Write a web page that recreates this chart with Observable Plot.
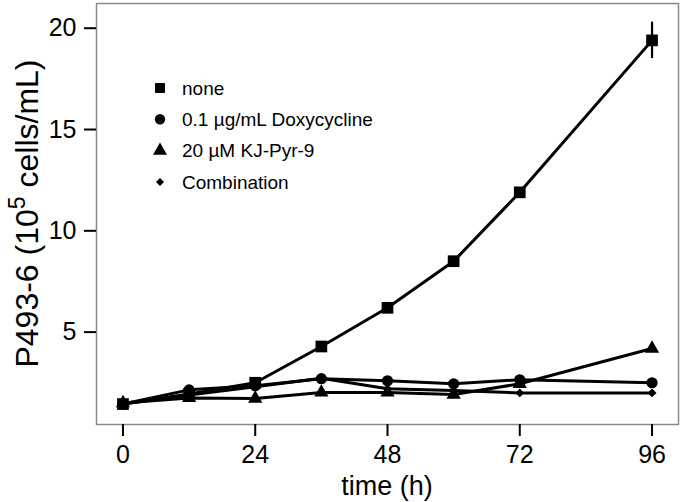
<!DOCTYPE html>
<html>
<head>
<meta charset="utf-8">
<script src="https://cdn.jsdelivr.net/npm/d3@7"></script>
<script src="https://cdn.jsdelivr.net/npm/@observablehq/plot@0.6"></script>
<style>
  html, body { margin: 0; padding: 0; background: #fff; }
  #chart svg { display: block; }
</style>
</head>
<body>
<div id="chart"></div>
<script>
// ---- data ----
const times = [0, 12, 24, 36, 48, 60, 72, 96];
const seriesNames = ["none", "0.1 µg/mL Doxycycline", "20 µM KJ-Pyr-9", "Combination"];
const noneValues  = [1.45, 1.95, 2.50, 4.29, 6.20, 8.50, 11.90, 19.40];
const doxyValues  = [1.45, 2.15, 2.35, 2.70, 2.60, 2.45, 2.65, 2.50];
const kjValues    = [1.50, 1.75, 1.72, 2.02, 2.02, 1.92, 2.45, 4.19];
const comboValues = [1.45, 1.90, 2.30, 2.72, 2.20, 2.12, 2.00, 2.00];
const errorTimes  = [96];
const errorMeans  = [19.40];
const errorHalf   = [0.90];
const xTicks = [0, 24, 48, 72, 96];
const yTicks = [5, 10, 15, 20];
const xTitle = "time (h)";

// ---- build tables ----
const allValues = [noneValues, doxyValues, kjValues, comboValues];
const rows = seriesNames.flatMap((s, i) => times.map((t, j) => ({series: s, time: t, value: allValues[i][j]})));
const errRows = errorTimes.map((t, i) => ({time: t, lo: errorMeans[i] - errorHalf[i], hi: errorMeans[i] + errorHalf[i]}));

// styles per series
const symbolFor = {"none": "square", "0.1 µg/mL Doxycycline": "circle", "20 µM KJ-Pyr-9": "triangle", "Combination": "diamond2"};
const rFor = {"none": 6.6, "0.1 µg/mL Doxycycline": 5.6, "20 µM KJ-Pyr-9": 5.3, "Combination": 4.0};

const font = "'Liberation Sans', Helvetica, Arial, sans-serif";

const plot = Plot.plot({
  width: 681,
  height: 502,
  marginLeft: 96,
  marginRight: 3,
  marginTop: 3,
  marginBottom: 78,
  style: {fontFamily: font, background: "white", color: "black"},
  x: {domain: [-4.8, 100.8]},
  y: {domain: [0.44, 21.22]},
  marks: [
    Plot.frame({stroke: "#8a8a8a", strokeWidth: 1.5}),
    Plot.axisX({ticks: xTicks, tickSize: 12, tickPadding: 9, fontSize: 25, strokeWidth: 2, label: null, tickFormat: d => String(d)}),
    Plot.axisY({ticks: yTicks, tickSize: 12, tickPadding: 8, fontSize: 25, strokeWidth: 2, label: null, tickFormat: d => String(d)}),
    Plot.line(rows, {x: "time", y: "value", z: "series", stroke: "black", strokeWidth: 3}),
    Plot.ruleX(errRows, {x: "time", y1: "lo", y2: "hi", stroke: "black", strokeWidth: 2.2}),
    ...seriesNames.map(s => Plot.dot(rows.filter(d => d.series === s), {
      x: "time", y: "value", symbol: symbolFor[s], r: rFor[s], fill: "black", stroke: "none"
    }))
  ]
});

document.getElementById("chart").appendChild(plot);

// ---- titles and legend ----
const svg = d3.select(plot);
const xs = plot.scale("x"), ys = plot.scale("y");
const [x0, x1] = xs.range, [y0, y1] = ys.range;

// x title
svg.append("text")
  .attr("x", (x0 + x1) / 2).attr("y", 495)
  .attr("text-anchor", "middle")
  .attr("font-family", font).attr("font-size", 27).attr("fill", "black")
  .text(xTitle);

// y title with superscript
const yt = svg.append("text")
  .attr("transform", `translate(38,${(y0 + y1) / 2}) rotate(-90)`)
  .attr("text-anchor", "middle")
  .attr("font-family", font).attr("font-size", 32).attr("fill", "black");
yt.append("tspan").text("P493-6 (10");
yt.append("tspan").attr("baseline-shift", "super").attr("font-size", 23).text("5");
yt.append("tspan").text(" cells/mL)");

// legend
const lg = svg.append("g").attr("font-family", font).attr("font-size", 19).attr("text-anchor", "start");
const legendSymbols = {square: d3.symbolSquare, circle: d3.symbolCircle, triangle: d3.symbolTriangle, diamond2: d3.symbolDiamond2};
const legendR = {"none": 5.6, "0.1 µg/mL Doxycycline": 5.2, "20 µM KJ-Pyr-9": 5.2, "Combination": 3.6};
seriesNames.forEach((s, i) => {
  const cy = 88 + i * 31.3;
  const r = legendR[s];
  lg.append("path")
    .attr("transform", `translate(160,${cy})`)
    .attr("d", d3.symbol(legendSymbols[symbolFor[s]], Math.PI * r * r)())
    .attr("fill", "black");
  lg.append("text").attr("x", 182).attr("y", cy).attr("dy", "0.35em").attr("text-anchor", "start").attr("fill", "black").text(s);
});
</script>
</body>
</html>
